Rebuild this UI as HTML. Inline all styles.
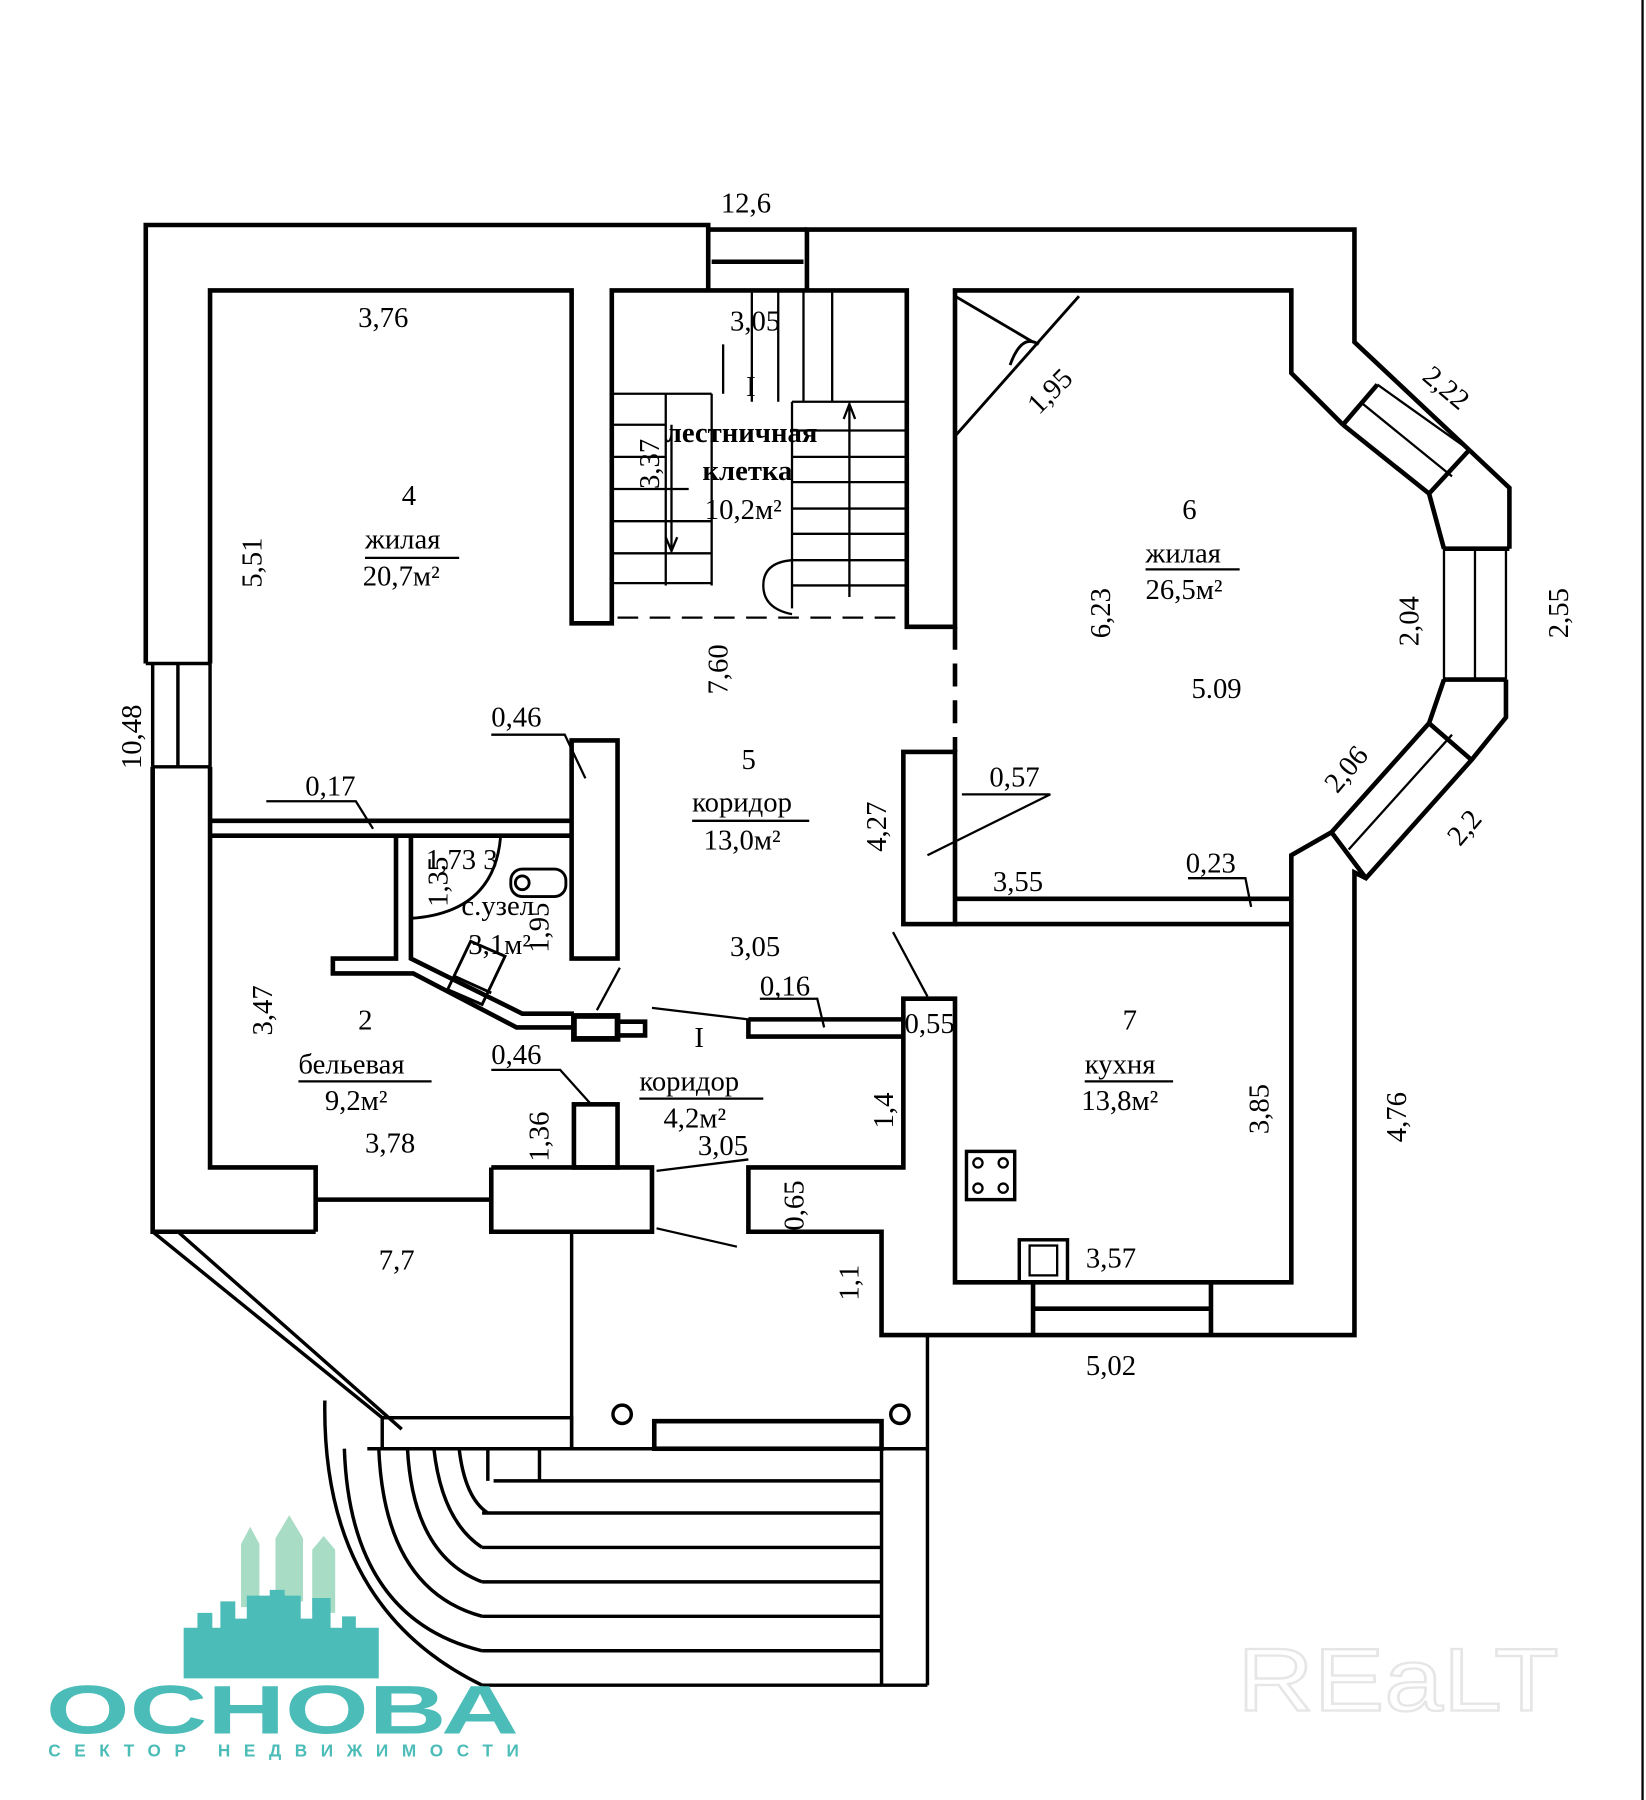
<!DOCTYPE html>
<html><head><meta charset="utf-8"><style>
html,body{margin:0;padding:0;background:#fff}
svg{display:block}
text{font-family:"Liberation Serif",serif;font-size:25px;fill:#000}
</style></head><body>
<svg width="1646" height="1800" viewBox="0 0 1434 1568" preserveAspectRatio="none" xmlns="http://www.w3.org/2000/svg">
<rect width="1434" height="1568" fill="#fff"/>
<g fill="none" stroke="#000" stroke-width="4" stroke-linejoin="miter">
<path d="M183,578 V253 H498 V543 H533 V253 H790 V546 H832 V253 H1125 V325 L1170,370"/>
<path d="M127,578 V196 H617 V253 M703,253 V200 H1180 V298 L1280,392"/>
<path d="M617,200 H703 M620,228 H700"/>
<rect x="617" y="200" width="86" height="53" stroke-width="3"/>
<path d="M1170,370 L1245,430 L1258,478 M1280,392 L1315,425 V478"/>
<path d="M1170,370 L1200,335 M1245,430 L1280,392 M1258,478 H1315 M1258,592 H1312 M1245,630 L1282,662 M1160,725 L1190,765"/>
<path d="M1258,478 V592 M1312,478 V592 M1285,478 V592" stroke-width="2"/>
<path d="M1200,335 L1280,392 M1185,350 L1265,415" stroke-width="2"/>
<path d="M1258,592 L1245,630 L1160,725 L1125,745 V1117 H832 V870 H787 V1017 H652 V1073 H768 V1163 H1180 V760 L1190,765 L1282,662 L1312,625 V592"/>
<path d="M1175,740 L1265,640" stroke-width="2"/>
<path d="M900,1117 V1163 M1055,1117 V1163 M900,1140 H1055" />
<path d="M127,578 H183 M133,668 H183 M155,578 V668 M133,578 V668 M183,578 V668" stroke-width="3"/>
<path d="M183,668 V1017 H275 V1073 M133,668 V1073 H275 M275,1045 H428 M428,1017 V1073 H568 V1017 H428 M275,1017 V1073"/>
<rect x="498" y="645" width="40" height="190"/>
<rect x="500" y="962" width="38" height="55"/>
<rect x="787" y="655" width="45" height="150"/>
<path d="M832,783 H1125 M832,805 H1125"/>
<path d="M832,546 V655" stroke-dasharray="20,12"/>
<path d="M538,538 H790" stroke-dasharray="18,10" stroke-width="2"/>
<path d="M183,715 H498 M183,728 H498"/>
<path d="M652,888 H787 M652,888 V903 H787"/>
<path d="M345,728 V835 H290 V848 H360 L450,895 H500 M358,728 V835 L455,883 H500" />
<rect x="500" y="885" width="38" height="20" stroke-width="5"/>
<path d="M538,890 H562 V902 H538"/>
<path d="M358,800 Q430,795 436,730" stroke-width="2.5"/>
<rect x="445" y="757" width="48" height="24" rx="10" stroke-width="2.5"/>
<circle cx="455" cy="769" r="6" stroke-width="2.5"/>
<path d="M410,820 L440,833 L420,875 L390,862 Z M395,850 L428,865" stroke-width="2.5"/>
<g stroke-width="2">
<path d="M655,253 V350 M678,253 V350 M700,253 V350 M725,253 V350"/>
<path d="M533,343 H620 M533,370 H580 M533,398 H580 M533,426 H600 M533,454 H620 M533,482 H620 M533,508 H620"/>
<path d="M580,343 V510 M620,343 V510 M630,300 V343"/>
<path d="M690,350 H790 M690,375 H790 M690,398 H790 M690,420 H790 M690,443 H790 M690,465 H790 M690,488 H790 M690,510 H790 M690,350 V530"/>
<path d="M690,488 Q665,490 665,510 Q665,530 690,535"/>
<path d="M740,352 V520 M735,365 L740,352 L745,365"/>
<path d="M585,370 V480 M580,468 L585,480 L590,468"/>
</g>
<path d="M832,258 L900,298 M832,380 L940,258 M880,318 Q890,290 905,300" stroke-width="2.5"/>
<rect x="842" y="1003" width="42" height="42" stroke-width="3"/>
<circle cx="852" cy="1013" r="4" stroke-width="2"/><circle cx="874" cy="1013" r="4" stroke-width="2"/>
<circle cx="852" cy="1035" r="4" stroke-width="2"/><circle cx="874" cy="1035" r="4" stroke-width="2"/>
<rect x="888" y="1080" width="42" height="37" stroke-width="3"/>
<rect x="897" y="1085" width="24" height="26" stroke-width="2"/>
<g stroke-width="2">
<path d="M428,640 H492 L510,678 M232,698 H310 L325,722 M428,932 H488 L515,962 M838,692 H915 L808,745 M1035,765 H1085 L1090,790 M662,870 H712 L718,895 M778,812 L808,868 M540,843 L520,880 M568,878 L652,888 M572,1070 L642,1086 M652,1010 L572,1020"/>
</g>
<path d="M133,1073 L333,1235 M155,1073 L350,1245" stroke-width="3"/>
<path d="M498,1073 V1262 M808,1163 V1468 M768,1262 V1468 M768,1238 V1262" stroke-width="3"/>
<rect x="333" y="1235" width="165" height="27" stroke-width="3"/>
<rect x="570" y="1238" width="198" height="24"/>
<circle cx="542" cy="1232" r="8" stroke-width="3"/>
<circle cx="784" cy="1232" r="8" stroke-width="3"/>
<g stroke-width="3">
<path d="M320,1262 H808 M430,1290 H768 M425,1262 V1290 M470,1262 V1290"/>
<path d="M420,1318 H768 M420,1348 H768 M420,1378 H768 M420,1408 H768 M420,1438 H768 M420,1468 H808"/>
<path d="M283,1220 Q280,1400 420,1468"/>
<path d="M300,1262 Q305,1410 420,1438"/>
<path d="M330,1262 Q335,1385 420,1408"/>
<path d="M355,1262 Q360,1355 420,1378"/>
<path d="M378,1262 Q385,1325 420,1348"/>
<path d="M400,1262 Q405,1305 425,1318"/>
</g>
</g>
<text x="628" y="185">12,6</text>
<text x="312" y="285">3,76</text>
<text x="636" y="288">3,05</text>
<text x="650" y="345">I</text>
<text x="580" y="385" font-weight="bold">лестничная</text>
<text x="612" y="418" font-weight="bold">клетка</text>
<text x="614" y="452">10,2м²</text>
<text x="350" y="440">4</text>
<text x="318" y="478">жилая</text>
<text x="316" y="510">20,7м²</text>
<path d="M318,486 H400" stroke="#000" stroke-width="2"/>
<text x="1030" y="452">6</text>
<text x="998" y="490">жилая</text>
<text x="998" y="522">26,5м²</text>
<path d="M998,496 H1080" stroke="#000" stroke-width="2"/>
<text x="1038" y="608">5.09</text>
<text x="646" y="670">5</text>
<text x="603" y="707">коридор</text>
<text x="613" y="740">13,0м²</text>
<path d="M603,715 H705" stroke="#000" stroke-width="2"/>
<text x="428" y="633">0,46</text>
<text x="266" y="693">0,17</text>
<text x="862" y="685">0,57</text>
<text x="865" y="776">3,55</text>
<text x="1033" y="760">0,23</text>
<text x="371" y="757" font-size="23">1,73 3</text>
<text x="402" y="797" font-size="23">с.узел</text>
<text x="408" y="831" font-size="23">3,1м²</text>
<text x="636" y="833">3,05</text>
<text x="662" y="867">0,16</text>
<text x="788" y="900">0,55</text>
<text x="978" y="897">7</text>
<text x="945" y="935">кухня</text>
<text x="942" y="967">13,8м²</text>
<path d="M945,942 H1022" stroke="#000" stroke-width="2"/>
<text x="312" y="897">2</text>
<text x="260" y="935">бельевая</text>
<text x="283" y="967">9,2м²</text>
<path d="M260,942 H376" stroke="#000" stroke-width="2"/>
<text x="428" y="927">0,46</text>
<text x="605" y="912">I</text>
<text x="557" y="950">коридор</text>
<text x="578" y="982">4,2м²</text>
<path d="M557,957 H665" stroke="#000" stroke-width="2"/>
<text x="318" y="1004">3,78</text>
<text x="608" y="1006">3,05</text>
<text x="330" y="1106">7,7</text>
<text x="946" y="1104">3,57</text>
<text x="946" y="1198">5,02</text>
<g>
<text transform="translate(123,670) rotate(-90)">10,48</text>
<text transform="translate(228,512) rotate(-90)">5,51</text>
<text transform="translate(574,426) rotate(-90)">3,37</text>
<text transform="translate(634,605) rotate(-90)">7,60</text>
<text transform="translate(967,556) rotate(-90)">6,23</text>
<text transform="translate(1236,563) rotate(-90)">2,04</text>
<text transform="translate(1366,556) rotate(-90)">2,55</text>
<text transform="translate(772,742) rotate(-90)">4,27</text>
<text transform="translate(237,902) rotate(-90)">3,47</text>
<text transform="translate(778,983) rotate(-90)">1,4</text>
<text transform="translate(478,1012) rotate(-90)">1,36</text>
<text transform="translate(700,1072) rotate(-90)">0,65</text>
<text transform="translate(748,1133) rotate(-90)">1,1</text>
<text transform="translate(1105,988) rotate(-90)">3,85</text>
<text transform="translate(1225,995) rotate(-90)">4,76</text>
<text transform="translate(390,790) rotate(-90)" font-size="23">1,35</text>
<text transform="translate(478,830) rotate(-90)" font-size="23">1,95</text>
<text transform="translate(905,362) rotate(-45)">1,95</text>
<text transform="translate(1238,330) rotate(40)">2,22</text>
<text transform="translate(1165,692) rotate(-50)">2,06</text>
<text transform="translate(1272,738) rotate(-50)">2,2</text>
</g>
<g>
<path d="M210,1345 L218,1330 L226,1345 V1400 H210 Z M240,1340 L252,1320 L264,1340 V1395 H240 Z M272,1350 L282,1338 L292,1350 V1405 H272 Z" fill="#a8dcc4"/>
<path d="M160,1462 V1418 H172 V1405 H185 V1418 H192 V1395 H205 V1410 H215 V1390 H235 V1385 H248 V1390 H262 V1410 H272 V1392 H288 V1418 H298 V1408 H310 V1418 H330 V1462 Z" fill="#4cbcb8"/>
<text x="40" y="1510" style="font-family:'Liberation Sans',sans-serif;font-size:60px;font-weight:bold;fill:#4cbcb8" textLength="412" lengthAdjust="spacingAndGlyphs">ОСНОВА</text>
<text x="42" y="1530" style="font-family:'Liberation Sans',sans-serif;font-size:15px;font-weight:bold;fill:#4cbcb8" textLength="410">СЕКТОР НЕДВИЖИМОСТИ</text>
</g>
<text x="1078" y="1490" style="font-family:'Liberation Sans',sans-serif;font-size:78px;fill:#fff;stroke:#e6e6e6;stroke-width:2" textLength="280" lengthAdjust="spacingAndGlyphs">REaLT</text>
<path d="M1431,0 V1568" stroke="#000" stroke-width="2"/>
</svg>
</body></html>
